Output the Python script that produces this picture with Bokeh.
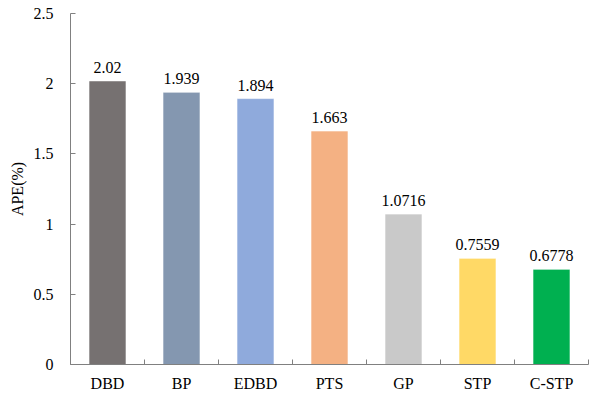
from bokeh.plotting import figure
from bokeh.models import ColumnDataSource, FixedTicker, Range1d
from bokeh.core.properties import value
from bokeh.embed import file_html
from bokeh.resources import INLINE

categories = ["DBD", "BP", "EDBD", "PTS", "GP", "STP", "C-STP"]
ape = [2.02, 1.939, 1.894, 1.663, 1.0716, 0.7559, 0.6778]
ape_labels = ["2.02", "1.939", "1.894", "1.663", "1.0716", "0.7559", "0.6778"]
colors = ["#767171", "#8497B0", "#8FAADC", "#F4B183", "#C9C9C9", "#FFD966", "#00B050"]
y_ticks = [0, 0.5, 1, 1.5, 2, 2.5]
y_tick_labels = ["0", "0.5", "1", "1.5", "2", "2.5"]

FONT = "Liberation Serif"
n = len(categories)
xpos = [i + 0.5 for i in range(n)]

src = ColumnDataSource(dict(x=xpos, top=ape, color=colors, label=ape_labels))

p = figure(width=591, height=395, output_backend="svg", toolbar_location=None,
           x_range=Range1d(0, n), y_range=Range1d(0, 2.5),
           min_border_left=70, min_border_right=3, min_border_top=13, min_border_bottom=31)
p.outline_line_color = None
p.xgrid.visible = False
p.ygrid.visible = False
p.background_fill_color = "white"
p.border_fill_color = "white"

p.vbar(x="x", top="top", width=0.5, color="color", line_color="white", line_alpha=0.6, source=src)
p.text(x="x", y="top", text="label", source=src, text_align="center", text_baseline="bottom",
       y_offset=-8, text_font=value(FONT), text_font_size="16px", text_color="black")

axis_color = "#808080"
# x axis
p.xaxis.ticker = FixedTicker(ticks=xpos, minor_ticks=list(range(n + 1)))
p.xaxis.major_label_overrides = {x: c for x, c in zip(xpos, categories)}
p.xaxis.major_tick_out = 0
p.xaxis.major_tick_in = 0
p.xaxis.minor_tick_out = 0
p.xaxis.minor_tick_in = 5
p.xaxis.minor_tick_line_color = axis_color
p.xaxis.axis_line_color = axis_color
p.xaxis.major_label_text_font = FONT
p.xaxis.major_label_text_font_size = "16px"
p.xaxis.major_label_text_color = "black"
p.xaxis.major_label_standoff = 10

# y axis
p.yaxis.ticker = FixedTicker(ticks=y_ticks, minor_ticks=[])
p.yaxis.major_label_overrides = {t: l for t, l in zip(y_ticks, y_tick_labels)}
p.yaxis.major_tick_out = 0
p.yaxis.major_tick_in = 5
p.yaxis.minor_tick_out = 0
p.yaxis.major_tick_line_color = axis_color
p.yaxis.axis_line_color = axis_color
p.yaxis.major_label_text_font = FONT
p.yaxis.major_label_text_font_size = "16px"
p.yaxis.major_label_text_color = "black"
p.yaxis.major_label_standoff = 17
p.yaxis.axis_label = "APE(%)"
p.yaxis.axis_label_text_font = FONT
p.yaxis.axis_label_text_font_size = "16px"
p.yaxis.axis_label_text_font_style = "normal"
p.yaxis.axis_label_text_color = "black"
p.yaxis.axis_label_standoff = 5

open("out.html", "w").write(file_html(p, INLINE))
